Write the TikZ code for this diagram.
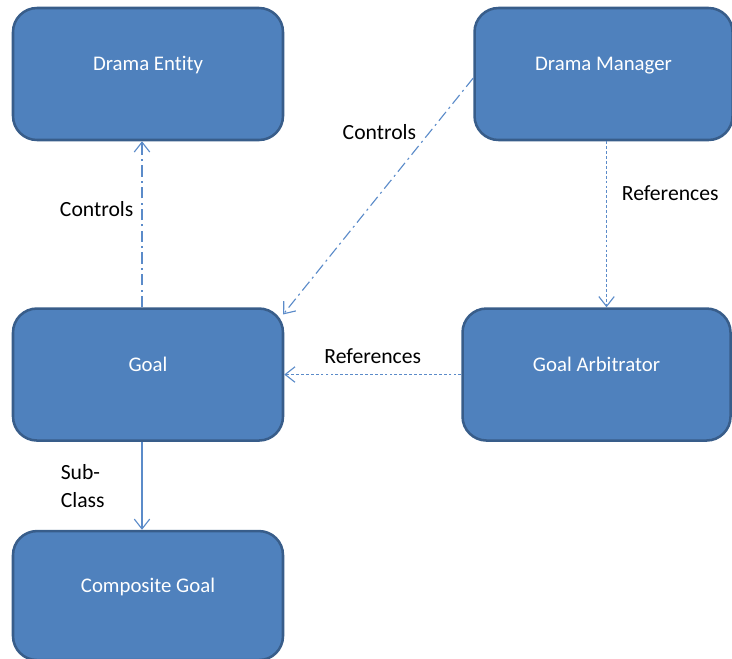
\documentclass[tikz,border=0pt]{standalone}
\usepackage{fontspec}
\setmainfont[Ligatures=NoCommon]{Carlito}
\usepackage{tikz}
\usetikzlibrary{arrows.meta,positioning}
\definecolor{boxblue}{RGB}{79,129,189}
\definecolor{boxedge}{RGB}{56,93,138}
\definecolor{linkblue}{RGB}{91,139,201}

\begin{document}
\begin{tikzpicture}[
    node distance=0.6cm,
    box/.style={rectangle, draw=boxedge, line width=1.8pt, fill=boxblue, rounded corners=0.6cm, minimum width=6.75cm, minimum height=3.3cm, text=white, text height=0.38cm, text depth=0.55cm, font=\fontsize{14.8}{18}\selectfont},
    link/.style={draw=linkblue, line width=0.8pt, -{Straight Barb[length=7pt,width=11pt]}},
    ctrl/.style={dash pattern=on 8pt off 3pt on 1.5pt off 3pt},
    refs/.style={dash pattern=on 2pt off 1.5pt},
    lbl/.style={font=\fontsize{15.4}{19.9}\selectfont, inner sep=2pt}
]
    \useasboundingbox (0,0) rectangle (18.3,-16.45);

    \node[box] (entity) at (3.7,-1.85) {Drama Entity};
    \node[box, minimum width=6.45cm, right=4.725cm of entity] (manager) {Drama Manager};
    \node[box, below=4.15cm of entity] (goal) {Goal};
    \node[box, minimum width=6.7cm, right=4.425cm of goal] (arbitrator) {Goal Arbitrator};
    \node[box, minimum height=3.225cm, below=2.2cm of goal] (composite) {Composite Goal};

    \draw[link, ctrl] ([xshift=-0.15cm]goal.north) -- node[lbl, pos=0.59, left=0.13cm] {Controls} ([xshift=-0.15cm]entity.south);
    \draw[link, ctrl] ([yshift=-0.1cm]manager.west) -- node[lbl, pos=0.23, left=0.25cm] {Controls} ([shift={(-0.03cm,-0.18cm)}]goal.north east);
    \draw[link, refs] ([xshift=0.075cm]manager.south) -- node[lbl, pos=0.31, right=0.3cm] {References} ([xshift=0.075cm]manager.south |- arbitrator.north);
    \draw[link, refs] (arbitrator.west) -- node[lbl, above=0.18cm] {References} (goal.east);
    \draw[link] ([xshift=-0.15cm]goal.south) -- node[lbl, midway, left=0.85cm, align=left] {Sub-\\Class} ([xshift=-0.15cm]composite.north);
\end{tikzpicture}
\end{document}
